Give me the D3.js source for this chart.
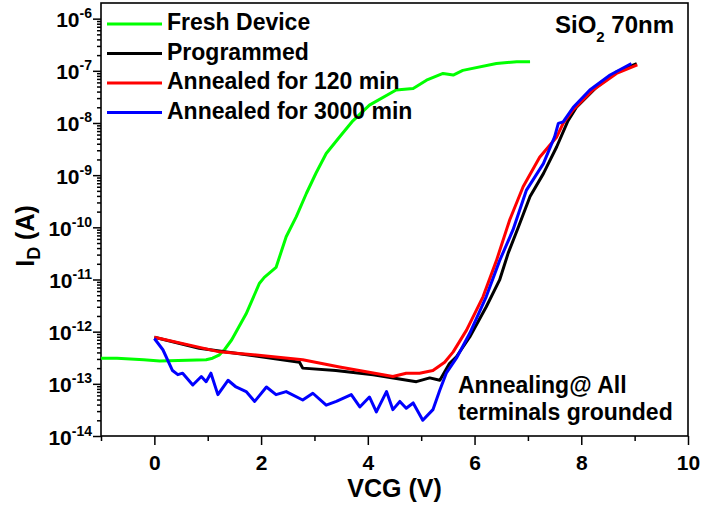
<!DOCTYPE html>
<html>
<head>
<meta charset="utf-8">
<script src="https://cdn.jsdelivr.net/npm/d3@7"></script>
<style>
  body { margin: 0; background: #fff; }
  text { font-family: "Liberation Sans", Arial, sans-serif; font-weight: bold; fill: #000; }
</style>
</head>
<body>
<svg id="chart" width="706" height="508"></svg>
<script>
// gate voltage (V) and drain current (A)
const freshV = [-1.0, -0.7, -0.2, 0.1, 0.97, 1.09, 1.22, 1.32, 1.45, 1.72, 1.97, 2.06, 2.28, 2.47, 2.66, 2.85, 3.03, 3.22, 3.47, 3.72, 4.03, 4.53, 4.85, 5.10, 5.41, 5.60, 5.78, 6.41, 6.79, 7.04];
const freshI = [3.1e-13, 3.1e-13, 2.9e-13, 2.75e-13, 2.9e-13, 3.1e-13, 3.6e-13, 4.6e-13, 7.0e-13, 2.2e-12, 8.5e-12, 1.1e-11, 1.7e-11, 6.6e-11, 1.6e-10, 4.5e-10, 1.1e-9, 2.6e-9, 5.4e-9, 1.1e-8, 2.2e-8, 4.3e-8, 4.6e-8, 6.6e-8, 8.9e-8, 8.3e-8, 1.02e-7, 1.38e-7, 1.5e-7, 1.5e-7];

const progV = [0, 0.84, 1.9, 2.72, 2.78, 3.4, 4.10, 4.91, 5.16, 5.35, 5.53, 5.66, 5.91, 6.22, 6.47, 6.63, 6.82, 7.04, 7.29, 7.54, 7.75, 7.91, 8.29, 8.66, 9.04];
const progI = [7.8e-13, 4.8e-13, 3.4e-13, 2.6e-13, 2.0e-13, 1.8e-13, 1.5e-13, 1.1e-13, 1.3e-13, 1.17e-13, 2.45e-13, 3.3e-13, 7.9e-13, 3.0e-12, 9.8e-12, 3.2e-11, 1.0e-10, 3.9e-10, 1.07e-9, 3.5e-9, 1.1e-8, 2.0e-8, 4.9e-8, 9.5e-8, 1.38e-7];

const ann120V = [0, 1.22, 2.0, 2.78, 3.47, 4.47, 4.72, 4.97, 5.22, 5.44, 5.60, 5.85, 6.16, 6.41, 6.66, 6.91, 7.22, 7.54, 7.66, 7.85, 8.22, 8.66, 9.05];
const ann120I = [7.8e-13, 4.1e-13, 3.5e-13, 2.9e-13, 2.1e-13, 1.38e-13, 1.6e-13, 1.6e-13, 1.8e-13, 2.6e-13, 4.1e-13, 1.07e-12, 4.7e-12, 2.3e-11, 1.4e-10, 6.0e-10, 2.2e-9, 5.4e-9, 9.8e-9, 1.8e-8, 4.3e-8, 8.9e-8, 1.3e-7];

const ann3000V = [0, 0.16, 0.34, 0.44, 0.53, 0.72, 0.88, 0.97, 1.06, 1.19, 1.38, 1.53, 1.72, 1.88, 2.10, 2.28, 2.47, 2.78, 2.97, 3.22, 3.41, 3.69, 3.85, 4.03, 4.16, 4.35, 4.47, 4.60, 4.72, 4.85, 5.03, 5.22, 5.35, 5.47, 5.66, 5.91, 6.22, 6.47, 6.72, 6.97, 7.29, 7.50, 7.57, 7.66, 7.85, 8.16, 8.54, 8.94];
const ann3000I = [7.4e-13, 4.5e-13, 1.8e-13, 1.5e-13, 1.6e-13, 9.5e-14, 1.38e-13, 1.1e-13, 1.6e-13, 6.2e-14, 1.17e-13, 8.7e-14, 7.1e-14, 4.6e-14, 8.7e-14, 6.2e-14, 7.1e-14, 4.9e-14, 6.6e-14, 3.9e-14, 4.6e-14, 6.2e-14, 3.6e-14, 5.6e-14, 2.9e-14, 7.1e-14, 3.2e-14, 4.6e-14, 3.4e-14, 4.3e-14, 2.0e-14, 3.2e-14, 7.6e-14, 1.6e-13, 3.1e-13, 9.3e-13, 4.7e-12, 2.3e-11, 8.9e-11, 5.1e-10, 1.66e-9, 5.4e-9, 9.8e-9, 1.05e-8, 2.0e-8, 4.3e-8, 8.3e-8, 1.38e-7];

const seriesNames = ['Fresh Device', 'Programmed', 'Annealed for 120 min', 'Annealed for 3000 min'];
const seriesColors = ['#00ff00', '#000000', '#ff0000', '#0000ff'];
const seriesData = [
    d3.zip(freshV, freshI),
    d3.zip(progV, progI),
    d3.zip(ann120V, ann120I),
    d3.zip(ann3000V, ann3000I)
];

const xMajor = [0, 2, 4, 6, 8, 10],
      xMinor = [-1, 1, 3, 5, 7, 9],
      yDecades = [-14, -13, -12, -11, -10, -9, -8, -7, -6];

const svg = d3.select('svg#chart');
const plotL = 101, plotR = 688, plotT = 3, plotB = 436;

const x = d3.scaleLinear().domain([-1, 10]).range([plotL, plotR]);
const y = d3.scaleLog().domain([1e-14, Math.pow(10, -5.7)]).range([plotB, plotT]);

// minor log ticks 2..9 in each decade
const yMinor = [];
yDecades.forEach(e => {
    for (let k = 2; k <= 9; k++) {
        const v = k * Math.pow(10, e);
        if (v <= y.domain()[1]) yMinor.push(v);
    }
});

// x axis
svg.append('g')
    .attr('transform', `translate(0,${plotB})`)
    .call(d3.axisBottom(x).tickValues(xMinor).tickSize(5).tickFormat(''))
    .call(g => g.select('.domain').remove());
svg.append('g')
    .attr('transform', `translate(0,${plotB})`)
    .call(d3.axisBottom(x).tickValues(xMajor).tickSize(9).tickPadding(10).tickFormat(d3.format('d')))
    .call(g => g.select('.domain').remove())
    .call(g => g.selectAll('text').style('font-size', '21px'));

// y axis
svg.append('g')
    .attr('transform', `translate(${plotL},0)`)
    .call(d3.axisLeft(y).tickValues(yMinor).tickSize(4).tickFormat(''))
    .call(g => g.select('.domain').remove());
const yMaj = svg.append('g')
    .attr('transform', `translate(${plotL},0)`)
    .call(d3.axisLeft(y).tickValues(yDecades.map(e => Math.pow(10, e))).tickSize(8).tickFormat(''))
    .call(g => g.select('.domain').remove());
yMaj.selectAll('.tick text').remove();
yMaj.selectAll('.tick').each(function (d) {
    const t = d3.select(this).append('text')
        .attr('x', -9)
        .attr('y', 8)
        .attr('text-anchor', 'end')
        .style('font-size', '21px');
    t.append('tspan').text('10');
    t.append('tspan').attr('dy', -9).style('font-size', '14px').text(Math.round(Math.log10(d)));
});

svg.selectAll('.tick line').attr('stroke', '#000').attr('stroke-width', 1.5);

// frame
svg.append('rect')
    .attr('x', plotL).attr('y', plotT)
    .attr('width', plotR - plotL).attr('height', plotB - plotT)
    .attr('fill', 'none').attr('stroke', '#000').attr('stroke-width', 1.6);

// curves
const line = d3.line().x(d => x(d[0])).y(d => y(d[1]));
svg.append('g').selectAll('path.curve')
    .data(seriesData)
    .join('path')
    .classed('curve', true)
    .attr('d', line)
    .attr('fill', 'none')
    .attr('stroke', (d, i) => seriesColors[i])
    .attr('stroke-width', 3)
    .attr('stroke-linejoin', 'round');

// legend
const legend = svg.append('g').selectAll('g')
    .data(seriesNames)
    .join('g')
    .attr('transform', (d, i) => `translate(107,${24 + i * 29.5})`);
legend.append('line')
    .attr('x1', 0).attr('x2', 55)
    .attr('stroke', (d, i) => seriesColors[i])
    .attr('stroke-width', 3);
legend.append('text')
    .attr('x', 60).attr('y', 6)
    .style('font-size', '23px')
    .text(d => d);

// oxide label
const ox = svg.append('text').attr('x', 555).attr('y', 33).style('font-size', '24px');
ox.append('tspan').text('SiO');
ox.append('tspan').attr('dy', 9).style('font-size', '15px').text('2');
ox.append('tspan').attr('dy', -9).text(' 70nm');

// annotation
svg.append('text').attr('x', 458).attr('y', 393).style('font-size', '23px').text('Annealing@ All');
svg.append('text').attr('x', 458).attr('y', 420).style('font-size', '23px').text('terminals grounded');

// axis titles
svg.append('text')
    .attr('x', (plotL + plotR) / 2).attr('y', 497)
    .attr('text-anchor', 'middle')
    .style('font-size', '25px')
    .text('VCG (V)');
const yt = svg.append('text')
    .attr('transform', 'translate(34,236) rotate(-90)')
    .attr('text-anchor', 'middle')
    .style('font-size', '25px');
yt.append('tspan').text('I');
yt.append('tspan').attr('dy', 6).style('font-size', '18px').text('D');
yt.append('tspan').attr('dy', -6).text(' (A)');
</script>
</body>
</html>
